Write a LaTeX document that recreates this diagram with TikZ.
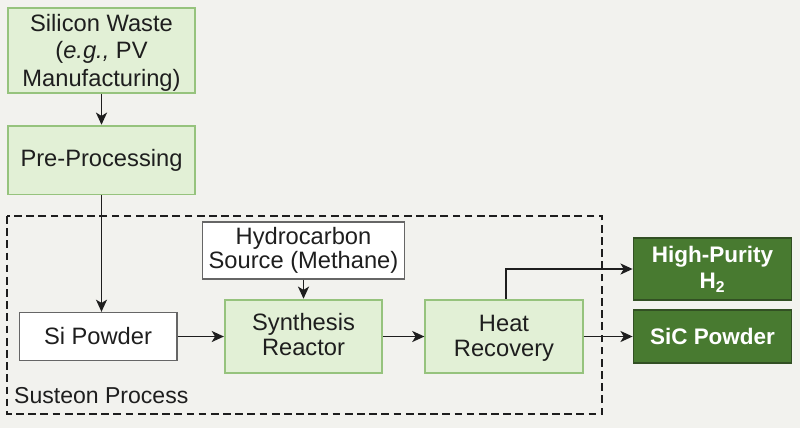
\documentclass[tikz,border=0pt]{standalone}
\usepackage{fontspec}
\setmainfont{Liberation Sans}
\usetikzlibrary{arrows.meta}
\definecolor{bg}{RGB}{242,242,238}
\definecolor{lg}{RGB}{226,240,214}
\definecolor{lgb}{RGB}{150,195,125}
\definecolor{dg}{RGB}{72,122,48}
\definecolor{dgb}{RGB}{50,80,35}
\definecolor{ink}{RGB}{30,30,30}
\tikzset{
 px/.style={x=0.0125in,y=-0.0125in},
 boxa/.style={draw=lgb,line width=1.6pt,fill=lg,align=center,inner sep=0pt,text=ink,font=\fontsize{21.4}{25}\selectfont},
 boxt/.style={boxa,font=\fontsize{21.4}{22.5}\selectfont},
 boxw/.style={draw=black!60,line width=1.4pt,fill=white,align=center,inner sep=0pt,text=ink,font=\fontsize{21.4}{22}\selectfont},
 boxd/.style={draw=dgb,line width=1.2pt,fill=dg,align=center,inner sep=0pt,text=white,font=\bfseries\fontsize{20.3}{24}\selectfont},
 conn/.style={draw=ink,line width=1.4pt,-{Stealth[length=11pt,width=10pt,inset=3pt]}},
}
\newcommand{\boxat}[6]{\node[#1,minimum width={#4*0.9pt},minimum height={#5*0.9pt},anchor=center] (#2) at (#3) {#6};}
\begin{document}
\begin{tikzpicture}[px]
\useasboundingbox[fill=bg] (0,0) rectangle (800,428);
\draw[ink,line width=1.3pt,dash pattern=on 7pt off 4pt] (7,216) rectangle (602,414);
\boxat{boxa}{waste}{101.5,50.5}{188}{85}{\rule{0pt}{19.5pt}Silicon Waste\\(\textit{e.g.,} PV\\Manufacturing)}
\boxat{boxa}{pre}{101.5,160}{188}{69}{Pre-Processing}
\boxat{boxw}{si}{98,336.5}{158}{48}{Si Powder}
\boxat{boxw}{hc}{303.5,250.5}{203}{57}{Hydrocarbon\\Source (Methane)}
\boxat{boxt}{syn}{303.5,336.5}{158}{74}{Synthesis\\Reactor\rule[-3pt]{0pt}{3pt}}
\boxat{boxt}{heat}{504,336.5}{158}{74}{\rule{0pt}{18.4pt}Heat\\Recovery}
\boxat{boxd}{h2}{712.5,269}{159}{62}{High-Purity\\H\textsubscript{2}}
\boxat{boxd}{sic}{712.5,336.5}{159}{53}{SiC Powder}
\node[anchor=west,inner sep=0pt,font=\fontsize{20.8}{24}\selectfont,text=ink] (lab) at (14,396) {Susteon Process};
\draw[conn] (waste) -- (pre);
\draw[conn] (pre.south) -- (pre.south |- si.north);
\draw[conn] (si) -- (syn);
\draw[conn] (hc) -- (syn);
\draw[conn] (syn) -- (heat);
\draw[conn] (heat) -- (sic);
\draw[conn] (heat.north) ++(2,0) |- (h2.west);
\end{tikzpicture}
\end{document}
